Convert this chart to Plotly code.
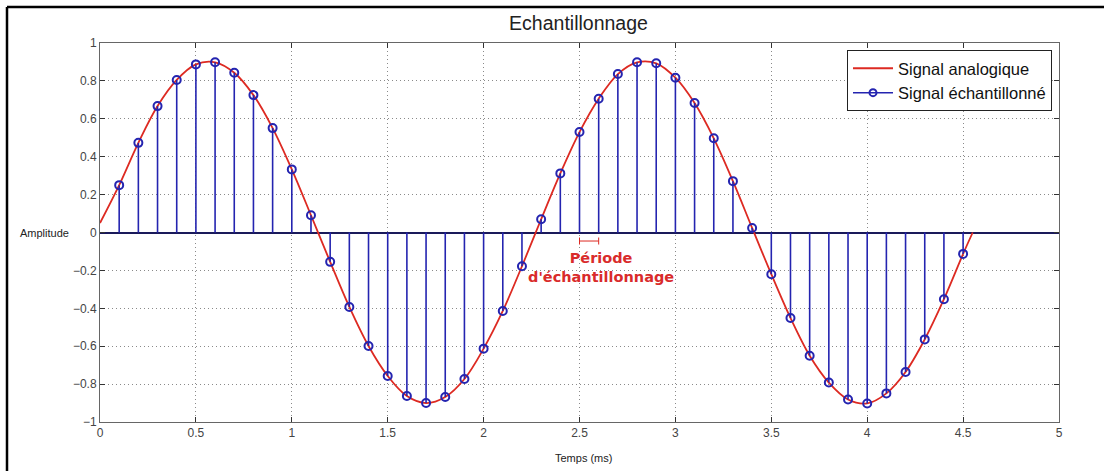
import plotly.graph_objects as go

# ---- data ----
sample_t = [0.1, 0.2, 0.3, 0.4, 0.5, 0.6, 0.7, 0.8, 0.9, 1.0,
            1.1, 1.2, 1.3, 1.4, 1.5, 1.6, 1.7, 1.8, 1.9, 2.0,
            2.1, 2.2, 2.3, 2.4, 2.5, 2.6, 2.7, 2.8, 2.9, 3.0,
            3.1, 3.2, 3.3, 3.4, 3.5, 3.6, 3.7, 3.8, 3.9, 4.0,
            4.1, 4.2, 4.3, 4.4, 4.5]
sample_v = [0.25, 0.473, 0.667, 0.805, 0.887, 0.898, 0.843, 0.725, 0.551, 0.333,
            0.091, -0.155, -0.393, -0.599, -0.757, -0.863, -0.900, -0.868, -0.773, -0.613,
            -0.414, -0.178, 0.070, 0.312, 0.530, 0.706, 0.836, 0.898, 0.893, 0.817,
            0.683, 0.497, 0.271, 0.024, -0.220, -0.451, -0.650, -0.792, -0.881, -0.902,
            -0.849, -0.736, -0.564, -0.352, -0.113]
analog_start = (0.0, 0.05)
analog_end = (4.55, 0.0)
period_marker_t = [2.5, 2.6]
period_marker_v = -0.045
x_ticks = [0, 0.5, 1, 1.5, 2, 2.5, 3, 3.5, 4, 4.5, 5]
y_ticks = [-1, -0.8, -0.6, -0.4, -0.2, 0, 0.2, 0.4, 0.6, 0.8, 1]

analog_t = [analog_start[0]] + sample_t + [analog_end[0]]
analog_v = [analog_start[1]] + sample_v + [analog_end[1]]

RED = "#dd2a22"
BLUE = "#2424b0"
FONT = "Liberation Sans, Arial, sans-serif"

stem_x, stem_y = [], []
for t, v in zip(sample_t, sample_v):
    stem_x += [t, t, None]
    stem_y += [0, v, None]

fig = go.Figure()
fig.add_trace(go.Scatter(x=analog_t, y=analog_v, mode="lines",
                         line=dict(color=RED, width=1.8, shape="spline", smoothing=1.0),
                         name="Signal analogique", hoverinfo="skip"))
fig.add_trace(go.Scatter(x=stem_x, y=stem_y, mode="lines",
                         line=dict(color=BLUE, width=1.6), showlegend=False, hoverinfo="skip"))
fig.add_trace(go.Scatter(x=sample_t, y=sample_v, mode="markers",
                         marker=dict(symbol="circle-open", size=8, color=BLUE,
                                     line=dict(width=2, color=BLUE)),
                         showlegend=False))
fig.add_trace(go.Scatter(x=[None], y=[None], mode="lines+markers",
                         line=dict(color=BLUE, width=1.6),
                         marker=dict(symbol="circle-open", size=7, color=BLUE,
                                     line=dict(width=2, color=BLUE)),
                         name="Signal échantillonné"))
# sampling-period marker
fig.add_trace(go.Scatter(x=period_marker_t, y=[period_marker_v] * 2, mode="lines+markers",
                         line=dict(color=RED, width=1),
                         marker=dict(symbol="line-ns", size=5, color=RED,
                                     line=dict(width=1, color=RED)),
                         showlegend=False, hoverinfo="skip"))

axis_common = dict(showline=True, linecolor="#666", linewidth=1, mirror="ticks",
                   ticks="inside", ticklen=5, tickcolor="#333",
                   showgrid=True, gridcolor="#8a8a8a", griddash="1px,3px", gridwidth=1,
                   tickfont=dict(family=FONT, size=12, color="#444"))

fig.update_layout(
    width=1104, height=471,
    margin=dict(l=100, r=45, t=43, b=49),
    paper_bgcolor="white", plot_bgcolor="white",
    title=dict(text="Echantillonnage", x=0.524, xanchor="center", y=0.951, yanchor="middle",
               font=dict(family=FONT, size=19.5, color="#222")),
    xaxis=dict(range=[0, 5], tickvals=x_ticks, zeroline=False, **axis_common),
    yaxis=dict(range=[-1, 1], tickvals=y_ticks, zeroline=True, zerolinecolor="#1a1a5a",
               zerolinewidth=1.5, **axis_common),
    legend=dict(x=0.9927, xanchor="right", y=0.9815, yanchor="top",
                bgcolor="white", bordercolor="#222", borderwidth=1,
                font=dict(family=FONT, size=16.5, color="#111"),
                tracegroupgap=0, itemwidth=40),
    showlegend=True,
)

fig.add_annotation(text="Amplitude", xref="paper", x=0, xanchor="right", xshift=-29,
                   yref="y", y=0, yanchor="middle", showarrow=False,
                   font=dict(family=FONT, size=11, color="#222"))
fig.add_annotation(text="Temps (ms)", xref="paper", x=0.5, xanchor="center", xshift=4,
                   yref="paper", y=0, yanchor="middle", yshift=-36, showarrow=False,
                   font=dict(family=FONT, size=11, color="#222"))
fig.add_annotation(text="<b>Période</b><br><b>d'échantillonnage</b>", x=2.61, y=-0.183,
                   xref="x", yref="y", showarrow=False, align="center",
                   font=dict(family="DejaVu Sans, sans-serif", size=14.5, color="#d92b2b"))

# outer frame (left and top edges of the screenshot)
fig.add_shape(type="line", xref="paper", yref="paper",
              x0=(7 - 100) / 959, x1=(7 - 100) / 959, y0=(422 - 7) / 379, y1=-49 / 379 - 0.01,
              line=dict(color="black", width=2.5))
fig.add_shape(type="line", xref="paper", yref="paper",
              x0=(7 - 100) / 959, x1=1.06, y0=(422 - 7) / 379, y1=(422 - 7) / 379,
              line=dict(color="black", width=2.5))

fig.write_html("out.html", config={"displayModeBar": False},
               post_script="document.body.style.margin='0';document.body.style.overflow='hidden';")
